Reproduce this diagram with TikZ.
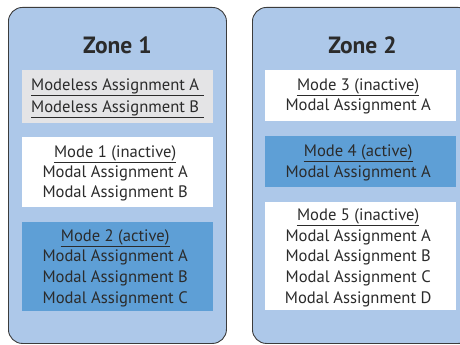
\documentclass[tikz,border=0pt]{standalone}
\usepackage{fontspec}
\setmainfont{PT Sans}
\usetikzlibrary{positioning,calc}
\definecolor{zonefill}{HTML}{ADC8E9}
\definecolor{zoneline}{HTML}{3C3C3C}
\definecolor{activefill}{HTML}{5E9FD6}
\definecolor{modelessfill}{HTML}{E4E4E6}
\definecolor{textcol}{HTML}{2B2B2B}
\tikzset{
    zone/.style={
        draw=zoneline,
        line width=0.9pt,
        fill=zonefill,
        rounded corners=14pt,
        anchor=north west,
        inner sep=0pt,
    },
    modebox/.style={
        fill=white,
        anchor=north west,
        inner sep=0pt,
        minimum width=191,
    },
    zonetitle/.style={
        anchor=base,
        inner sep=0pt,
        text=textcol,
        font=\bfseries\fontsize{23.5}{28}\selectfont,
    },
    line/.style={
        anchor=base,
        inner sep=0pt,
        text=textcol,
        font=\fontsize{16.6}{20}\selectfont,
    },
    uline/.style={
        draw=textcol,
        line width=0.9pt,
    },
}

\begin{document}
\begin{tikzpicture}[x=1pt,y=-1pt]
    \useasboundingbox (0,0) rectangle (460,345);
    \clip (0,0) rectangle (460,345);
    % zones
    \node [zone, minimum width=218, minimum height=336] (zone1) at (8,7) {};
    \node [zone, minimum width=220, minimum height=336] (zone2) at (252,7) {};
    \node [zonetitle] (zone1title) at ($(zone1.north)+(0,46.3)$) {Zone 1};
    \node [zonetitle] (zone2title) at ($(zone2.north)+(0,46.3)$) {Zone 2};

    % zone 1
    \node [modebox, fill=modelessfill, minimum height=53] (modeless) at (22,70) {};
    \node [line, anchor=base west] (modelessA) at ($(modeless.north west)+(9,20)$) {Modeless Assignment A};
    \node [line, anchor=base west] (modelessB) at ($(modelessA.base west)+(0,22)$) {Modeless Assignment B};
    \draw [uline] ([yshift=-5pt]modelessA.base west) -- ++(173,0);
    \draw [uline] ([yshift=-5pt]modelessB.base west) -- ++(173,0);

    \node [modebox, minimum height=70] (mode1) at (22,137) {};
    \node [line] (mode1title) at ($(mode1.north)+(-2.5,20.5)$) {Mode 1 (inactive)};
    \foreach \s [count=\i] in {A,B}
        \node [line] (mode1\s) at ($(mode1title.base)+(0,\i*20)$) {Modal Assignment \s};

    \node [modebox, fill=activefill, minimum height=89] (mode2) at (22,222) {};
    \node [line] (mode2title) at ($(mode2.north)+(-2.5,19)$) {Mode 2 (active)};
    \foreach \s [count=\i] in {A,B,C}
        \node [line] (mode2\s) at ($(mode2title.base)+(0,\i*20.7)$) {Modal Assignment \s};

    % zone 2
    \node [modebox, minimum height=51] (mode3) at (265,70) {};
    \node [line] (mode3title) at ($(mode3.north)+(-2.5,20)$) {Mode 3 (inactive)};
    \node [line] (mode3A) at ($(mode3title.base)+(0,20.7)$) {Modal Assignment A};

    \node [modebox, fill=activefill, minimum height=51] (mode4) at (265,136) {};
    \node [line] (mode4title) at ($(mode4.north)+(-2.5,20.5)$) {Mode 4 (active)};
    \node [line] (mode4A) at ($(mode4title.base)+(0,20.7)$) {Modal Assignment A};

    \node [modebox, minimum height=108] (mode5) at (265,202) {};
    \node [line] (mode5title) at ($(mode5.north)+(-2.5,18.5)$) {Mode 5 (inactive)};
    \foreach \s [count=\i] in {A,B,C,D}
        \node [line] (mode5\s) at ($(mode5title.base)+(0,\i*20.7)$) {Modal Assignment \s};

    % underlines of the mode names
    \foreach \m in {mode1,mode2,mode3,mode4,mode5}
        \draw [uline] ([yshift=-5pt]\m title.base west) -- ([yshift=-5pt]\m title.base east);
\end{tikzpicture}
\end{document}
